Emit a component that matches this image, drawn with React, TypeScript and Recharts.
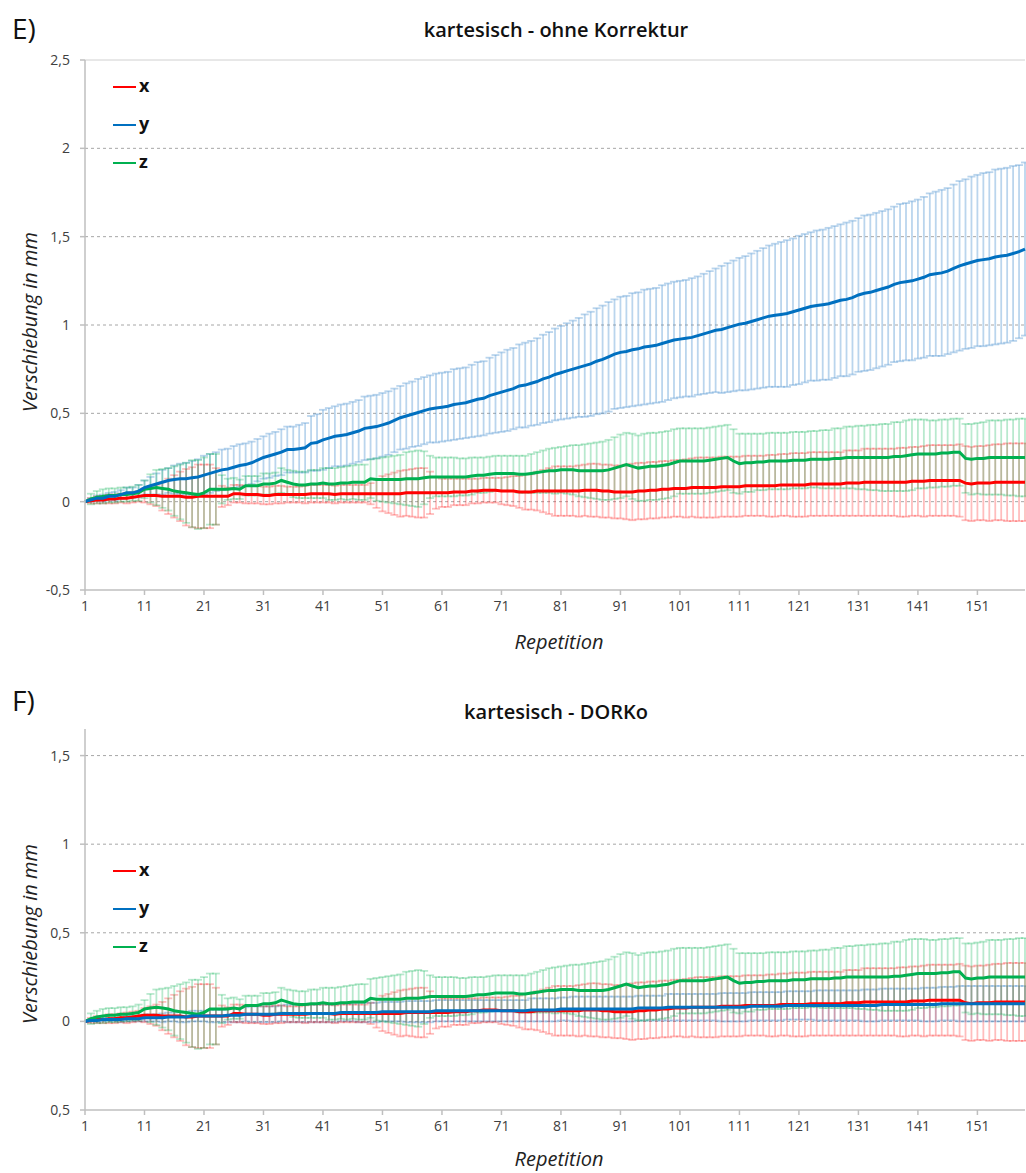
import React from "react";
import { LineChart, Line, XAxis, YAxis, CartesianGrid, ErrorBar, ReferenceLine } from "recharts";

// Repetition index 1..159
const repetitions = Array.from({ length: 159 }, (_, i) => i + 1);

// Displacement means and standard deviations, in 1/100 mm
const xMean = [
  0, 0.5, 1, 1, 1.5, 1.5, 2, 2, 2.5, 3,
  3.5, 3.5, 3.5, 3, 3, 3, 3, 2.5, 2.5, 3,
  3, 3, 3, 3, 3, 4.5, 4.5, 4, 4, 4,
  3.5, 3.5, 4, 4, 4, 4, 4, 4, 4.5, 4.5,
  4.5, 4.5, 4, 4.5, 4.5, 4.5, 4.5, 4.5, 4.5, 4.5,
  4.5, 4.5, 4.5, 4.5, 5, 5, 5, 5, 5, 5,
  5, 5, 5.5, 5.5, 5.5, 6, 6, 6.5, 6.5, 6.5,
  6, 6, 6, 5.5, 5.5, 5.5, 6, 6, 6, 6,
  6, 6, 6, 6, 6.5, 6.5, 6.5, 6, 6, 5.5,
  5.5, 5.5, 5.5, 6, 6, 6.5, 6.5, 7, 7, 7.5,
  7.5, 7.5, 8, 8, 8, 8, 8, 8.5, 8.5, 8.5,
  8.5, 9, 9, 9, 9, 9, 9, 9.5, 9.5, 9.5,
  9.5, 9.5, 10, 10, 10, 10, 10, 10, 10.5, 10.5,
  10.5, 11, 11, 11, 11, 11, 11, 11, 11, 11.5,
  11.5, 11.5, 12, 12, 12, 12, 12, 12, 10.5, 10,
  10.5, 10.5, 10.5, 11, 11, 11, 11, 11, 11,
];
const xSd = [
  0, 1.5, 2, 2, 2.5, 2.5, 2.5, 3, 3, 3,
  4, 5, 6, 8, 10, 12, 14, 16, 17, 18,
  18, 18, 16, 6, 5, 5, 5, 5, 5, 5,
  5, 5, 5, 5, 4.5, 4.5, 4.5, 5, 5, 5,
  5, 5, 5, 5, 5, 5, 5, 5, 6, 8,
  10, 11, 12, 13, 13, 13.5, 14, 14, 12, 9,
  8, 8, 7.5, 7.5, 7.5, 7, 7, 7, 7, 7,
  7.5, 8, 8.5, 9, 10, 10, 11, 12, 13, 14,
  14, 14, 14, 14.5, 14.5, 15, 15, 15, 15, 15,
  15, 15.5, 16, 16, 16, 16, 16, 16, 16, 16,
  16, 16.5, 16.5, 17, 17, 17, 17, 17, 17, 17,
  17, 17, 17, 17, 17, 17.5, 17.5, 17.5, 17.5, 18,
  18, 18, 18, 18, 18, 18, 18, 18, 18.5, 18.5,
  18.5, 19, 19, 19, 19, 19, 19, 19.5, 19.5, 19.5,
  19.5, 20, 20, 20, 20, 20, 20, 20.5, 21, 21,
  21, 21, 21.5, 21.5, 21.5, 22, 22, 22, 22,
];

const yMeanUncorrected = [
  0, 1, 2, 2, 3, 3, 4, 5, 5, 6,
  8, 9, 10, 11, 12, 12.5, 13, 13, 13.5, 14,
  15, 16, 17, 18, 18.5, 19.5, 20.5, 21, 22, 23.5,
  25, 26, 27, 28, 29.5, 29.5, 30, 30.5, 33, 33.5,
  35, 36, 37, 37.5, 38, 39, 40, 41.5, 42, 42.5,
  43.5, 44.5, 46, 47.5, 48.5, 49.5, 50.5, 51.5, 52.5, 53,
  53.5, 54, 55, 55.5, 56, 57, 58, 58.5, 60, 61,
  62, 63, 64, 65.5, 66, 67, 68, 69.5, 70.5, 72,
  73, 74, 75, 76, 77, 78, 79.5, 80.5, 82, 83.5,
  84.5, 85, 86, 86.5, 87.5, 88, 88.5, 89.5, 90.5, 91.5,
  92, 92.5, 93, 94, 95, 96, 97, 97.5, 98.5, 99.5,
  100.5, 101, 102, 103, 104, 105, 105.5, 106, 106.5, 107.5,
  108.5, 109.5, 110.5, 111, 111.5, 112, 113, 114, 114.5, 115.5,
  117, 118, 118.5, 119.5, 120.5, 121.5, 123, 124, 124.5, 125,
  126, 127, 128.5, 129, 129.5, 130.5, 132, 133.5, 134.5, 135.5,
  136.5, 137, 137.5, 138.5, 139, 139.5, 140.5, 141.5, 143,
];
const ySdUncorrected = [
  0, 1, 1.5, 2, 2, 2.5, 2.5, 3, 3, 3.5,
  4, 5, 6, 7, 7, 8, 8.5, 9, 9.5, 10,
  11, 11, 11, 11.5, 11.5, 12, 12, 12, 12, 12,
  12, 12.5, 12.5, 13, 13, 13, 13.5, 14, 15.5, 16,
  17, 17, 17, 17.5, 17.5, 17.5, 17.5, 18, 18, 18,
  18, 18, 18, 18, 18.5, 18.5, 19, 19, 19, 19.5,
  19.5, 19.5, 20, 20, 20, 20.5, 21, 21, 21.5, 22,
  22.5, 23, 23, 23.5, 24, 24, 24.5, 25, 25.5, 26,
  26.5, 27, 27.5, 28, 29, 29.5, 30, 30.5, 31, 31,
  31.5, 31.5, 32, 32, 32.5, 32.5, 32.5, 33, 33, 33,
  33, 33, 33.5, 33.5, 34, 34.5, 35, 36, 36.5, 37,
  37.5, 38, 38.5, 39, 39.5, 40, 40.5, 41, 41.5, 41.5,
  42, 42, 42, 42.5, 42.5, 43, 43, 43, 43.5, 43.5,
  43.5, 44, 44, 44, 44, 44, 44, 44.5, 44.5, 45,
  45, 45.5, 46, 46.5, 47, 47, 47.5, 48, 48, 48.5,
  48.5, 49, 49, 49.5, 49.5, 49.5, 49.5, 49, 49,
];

const yMeanDorko = [
  0, 0.5, 0.5, 1, 1, 1, 1, 1.5, 1.5, 1.5,
  2, 2, 2, 2, 2.5, 2.5, 2.5, 2.5, 3, 3,
  3, 3, 3, 3, 3.5, 3.5, 3.5, 4, 4, 4,
  4, 4, 4, 4.5, 4.5, 4.5, 4.5, 4.5, 4.5, 4.5,
  4.5, 4.5, 4.5, 5, 5, 5, 5, 5, 5, 5,
  5.5, 5.5, 5.5, 5.5, 5.5, 5.5, 5.5, 5.5, 5.5, 6,
  6, 6, 6, 6, 6, 6, 6, 6, 6, 6,
  6, 6, 6, 6, 6, 6.5, 6.5, 6.5, 6.5, 6.5,
  7, 7, 7, 7, 7, 7, 7, 7, 7, 7,
  7, 7, 7, 7.5, 7.5, 7.5, 7.5, 7.5, 8, 8,
  8, 8, 8, 8, 8, 8, 8, 8, 8, 8,
  8, 8, 8.5, 8.5, 8.5, 8.5, 8.5, 8.5, 9, 9,
  9, 9, 9, 9, 9, 9, 9, 9, 9, 9,
  9, 9, 9, 9, 9.5, 9.5, 9.5, 9.5, 9.5, 9.5,
  9.5, 9.5, 9.5, 9.5, 10, 10, 10, 10, 10, 10,
  10, 10, 10, 10, 10, 10, 10, 10, 10,
];
const ySdDorko = [
  0, 0.5, 1, 1, 1, 1, 1.5, 1.5, 1.5, 1.5,
  2, 2, 2, 2.5, 2.5, 2.5, 3, 3, 3, 3,
  3, 3.5, 3.5, 3.5, 4, 4, 4, 4, 4.5, 4.5,
  4.5, 4.5, 4.5, 4.5, 5, 5, 5, 5, 5, 5,
  5, 5, 5, 5, 5, 5, 5.5, 5.5, 5.5, 5.5,
  5.5, 5.5, 5.5, 5.5, 6, 6, 6, 6, 6, 6,
  6, 6, 6, 6, 6, 6, 6, 6, 6, 6,
  6, 6, 6, 6, 6, 6.5, 6.5, 6.5, 6.5, 6.5,
  6.5, 6.5, 7, 7, 7, 7, 7, 7, 7, 7,
  7, 7, 7, 7, 7, 7, 7, 7, 7.5, 7.5,
  7.5, 7.5, 7.5, 7.5, 7.5, 7.5, 7.5, 8, 8, 8,
  8, 8, 8, 8, 8, 8, 8, 8, 8, 8,
  8, 8, 8, 8.5, 8.5, 8.5, 8.5, 8.5, 8.5, 8.5,
  8.5, 9, 9, 9, 9, 9, 9, 9, 9, 9,
  9, 9.5, 9.5, 9.5, 9.5, 9.5, 9.5, 10, 10, 10,
  10, 10, 10, 10, 10, 10, 10, 10, 10,
];

const zMean = [
  0, 1.5, 2.5, 3, 3.5, 3.5, 4, 4, 4.5, 5,
  7, 7.5, 8, 7.5, 7, 6, 5.5, 5, 4.5, 4,
  5, 7, 7, 7, 7, 7.5, 7, 9, 9, 9,
  10, 10, 10.5, 12, 11, 10, 9.5, 9.5, 10, 10,
  10.5, 10, 10, 10.5, 10.5, 11, 11, 11, 13, 12.5,
  12.5, 12.5, 12.5, 12.5, 13, 13, 13, 13.5, 14, 14,
  14, 14, 14, 14, 14, 14.5, 15, 15, 15.5, 16,
  16, 16, 16, 15.5, 15.5, 16, 16.5, 17, 17.5, 17.5,
  18, 18, 18, 17.5, 17.5, 17.5, 17.5, 17.5, 18, 19,
  20, 21, 20, 19, 19.5, 20, 20, 20.5, 21, 22,
  23, 23, 23, 23, 23, 23.5, 24, 24.5, 25, 23,
  21.5, 22, 22, 22.5, 22.5, 23, 23, 23, 23, 23.5,
  23.5, 23.5, 24, 24, 24, 24, 24.5, 24.5, 25, 25,
  25, 25, 25, 25, 25, 25, 25.5, 25.5, 26, 26.5,
  27, 27, 27, 27, 27.5, 27.5, 28, 28, 24.5, 24,
  24.5, 24.5, 25, 25, 25, 25, 25, 25, 25,
];
const zSd = [
  0, 3, 3.5, 4, 4, 4, 4, 4, 4, 4.5,
  5, 8, 10, 11, 12, 14, 15.5, 17, 19, 19.5,
  20, 20, 20, 8, 6, 6, 5.5, 5.5, 5.5, 5.5,
  6, 6, 6, 7, 7, 7.5, 7.5, 7.5, 8, 8,
  8.5, 9, 9, 9, 9.5, 9.5, 10, 10, 11, 12,
  12.5, 13, 13.5, 14, 15, 15.5, 16, 15, 12, 11,
  11, 11, 11, 10.5, 10.5, 10.5, 10, 10, 10, 10,
  10, 10, 10, 10.5, 10.5, 11, 11.5, 12, 12.5, 13,
  13, 13.5, 14, 14.5, 15, 15.5, 16, 16.5, 17, 17.5,
  18, 18, 18.5, 18.5, 19, 19, 19, 19, 19, 19,
  18.5, 18.5, 18.5, 18.5, 18.5, 18.5, 18.5, 18.5, 18.5, 18,
  17, 16.5, 16.5, 16, 16, 16, 16, 16, 16, 16,
  16, 16, 16, 16, 16.5, 16.5, 17, 17, 17.5, 17.5,
  18, 18, 18.5, 18.5, 19, 19, 19.5, 19.5, 20, 20,
  19.5, 19.5, 19, 19, 19, 19, 19, 19, 19.5, 20,
  20, 20.5, 21, 21, 21, 21.5, 21.5, 22, 22,
];

// Axis ticks and their printed labels
const yTicksE = [-0.5, 0, 0.5, 1, 1.5, 2, 2.5];
const yTickLabelsE = ["-0,5", "0", "0,5", "1", "1,5", "2", "2,5"];
const yTicksF = [-0.5, 0, 0.5, 1, 1.5];
const yTickLabelsF = ["0,5", "0", "0,5", "1", "1,5"];

const rows = repetitions.map((rep, i) => ({
  rep,
  x: xMean[i] / 100,
  xSd: xSd[i] / 100,
  yE: yMeanUncorrected[i] / 100,
  yESd: ySdUncorrected[i] / 100,
  yF: yMeanDorko[i] / 100,
  yFSd: ySdDorko[i] / 100,
  z: zMean[i] / 100,
  zSd: zSd[i] / 100,
}));

const FONT = "'Open Sans', sans-serif";
const RED = "#ff0000";
const BLUE = "#0070c0";
const GREEN = "#00b050";

type PanelProps = {
  top: number;
  height: number;
  margin: { top: number; right: number; bottom: number; left: number };
  letter: string;
  letterTop: number;
  title: string;
  titleTop: number;
  yDomain: [number, number];
  yTicks: number[];
  yTickLabels: string[];
  gridValues: number[];
  yKey: string;
  yErrKey: string;
  capLine?: number;
  legendTop: number;
  yLabelCenter: number;
  xLabelTop: number;
};

function Panel(p: PanelProps) {
  const legend = [
    { name: "x", color: RED },
    { name: "y", color: BLUE },
    { name: "z", color: GREEN },
  ];
  // error bars first, so every mean line sits on top of them
  const errors = [
    { key: p.yKey, err: p.yErrKey, color: "rgba(91,155,213,0.42)" },
    { key: "x", err: "xSd", color: "rgba(255,0,0,0.26)" },
    { key: "z", err: "zSd", color: "rgba(0,176,80,0.28)" },
  ];
  const lines = [
    { key: "x", color: RED },
    { key: "z", color: GREEN },
    { key: p.yKey, color: BLUE },
  ];
  const tickStyle = { fill: "#404040", fontSize: 14, fontFamily: FONT };
  return (
    <>
      <div style={{ position: "absolute", left: 12, top: p.letterTop, fontFamily: FONT, fontSize: 28, lineHeight: 1, color: "#111" }}>
        {p.letter}
      </div>
      <div style={{ position: "absolute", left: 556, top: p.titleTop, transform: "translateX(-50%)", whiteSpace: "nowrap", fontFamily: FONT, fontWeight: 600, fontSize: 20, lineHeight: 1, color: "#111" }}>
        {p.title}
      </div>
      <div style={{ position: "absolute", left: 0, top: p.top }}>
        <LineChart width={1026} height={p.height} data={rows} margin={p.margin}>
          <CartesianGrid vertical={false} horizontalValues={p.gridValues} stroke="#a6a6a6" strokeDasharray="3 3" />
          {p.capLine !== undefined && <ReferenceLine y={p.capLine} stroke="#d0d0d0" strokeWidth={1} />}
          <XAxis
            dataKey="rep"
            interval={9}
            height={40}
            tickSize={5}
            tickMargin={6}
            stroke="#bfbfbf"
            strokeWidth={1.5}
            tick={tickStyle}
          />
          <YAxis
            type="number"
            domain={p.yDomain}
            ticks={p.yTicks}
            allowDataOverflow
            width={60}
            tickSize={5}
            tickMargin={10}
            stroke="#bfbfbf"
            strokeWidth={1.5}
            tick={tickStyle}
            tickFormatter={(v: number) => p.yTickLabels[p.yTicks.indexOf(v)] ?? String(v)}
          />
          {errors.map((e) => (
            <Line key={"err-" + e.key} dataKey={e.key} stroke="none" dot={false} activeDot={false} legendType="none" isAnimationActive={false}>
              <ErrorBar dataKey={e.err} direction="y" width={4} strokeWidth={1.8} stroke={e.color} isAnimationActive={false} />
            </Line>
          ))}
          {lines.map((l) => (
            <Line key={"line-" + l.key} type="linear" dataKey={l.key} stroke={l.color} strokeWidth={3} dot={false} activeDot={false} isAnimationActive={false} />
          ))}
        </LineChart>
      </div>
      {legend.map((s, i) => (
        <div key={s.name} style={{ position: "absolute", left: 113, top: p.legendTop + i * 38 - 11, height: 22, display: "flex", alignItems: "center", fontFamily: FONT, fontWeight: 700, fontSize: 18, color: "#111" }}>
          <span style={{ display: "inline-block", width: 23, height: 2.5, background: s.color, marginRight: 3 }} />
          <span style={{ lineHeight: 1, marginTop: -4 }}>{s.name}</span>
        </div>
      ))}
      <div style={{ position: "absolute", left: 30, top: p.yLabelCenter, transform: "translate(-50%, -50%) rotate(-90deg)", whiteSpace: "nowrap", fontFamily: FONT, fontStyle: "italic", fontSize: 20, lineHeight: 1, color: "#222" }}>
        Verschiebung in mm
      </div>
      <div style={{ position: "absolute", left: 559, top: p.xLabelTop, transform: "translateX(-50%)", whiteSpace: "nowrap", fontFamily: FONT, fontStyle: "italic", fontSize: 20, lineHeight: 1, color: "#222" }}>
        Repetition
      </div>
    </>
  );
}

export default function App() {
  return (
    <div style={{ position: "absolute", left: 0, top: 0, width: 1026, height: 1173, background: "#fff", overflow: "hidden" }}>
      <Panel
        top={0}
        height={660}
        margin={{ top: 60, right: 1, bottom: 30, left: 25 }}
        letter="E)"
        letterTop={14}
        title="kartesisch - ohne Korrektur"
        titleTop={20}
        yDomain={[-0.5, 2.5]}
        yTicks={yTicksE}
        yTickLabels={yTickLabelsE}
        gridValues={[0, 0.5, 1, 1.5, 2]}
        yKey="yE"
        yErrKey="yESd"
        capLine={2.5}
        legendTop={87}
        yLabelCenter={322}
        xLabelTop={632}
      />
      <Panel
        top={660}
        height={513}
        margin={{ top: 69, right: 1, bottom: 23, left: 25 }}
        letter="F)"
        letterTop={686}
        title="kartesisch - DORKo"
        titleTop={702}
        yDomain={[-0.5, 1.65]}
        yTicks={yTicksF}
        yTickLabels={yTickLabelsF}
        gridValues={[0, 0.5, 1, 1.5]}
        yKey="yF"
        yErrKey="yFSd"
        legendTop={871}
        yLabelCenter={934}
        xLabelTop={1149}
      />
    </div>
  );
}
